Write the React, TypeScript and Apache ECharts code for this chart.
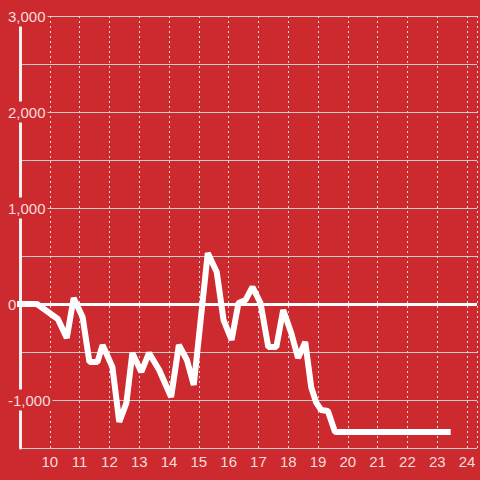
import React, { useEffect, useRef } from "react";
import * as echarts from "echarts";

const hours = [9.0, 9.57, 10.27, 10.57, 10.8, 11.1, 11.33, 11.6, 11.77, 12.1, 12.33, 12.57, 12.77, 13.07, 13.33, 13.67, 14.07, 14.33, 14.6, 14.83, 15.3, 15.6, 15.83, 16.1, 16.33, 16.57, 16.8, 17.07, 17.33, 17.6, 17.83, 18.1, 18.33, 18.57, 18.77, 18.93, 19.1, 19.33, 19.57, 23.35];
const values = [0, 0, -156, -354, 62, -135, -604, -604, -427, -656, -1229, -1031, -510, -708, -510, -688, -969, -427, -583, -844, 531, 333, -167, -375, 10, 42, 177, 10, -448, -448, -62, -302, -563, -396, -865, -1021, -1104, -1115, -1333, -1333];
const xTicks = [10, 11, 12, 13, 14, 15, 16, 17, 18, 19, 20, 21, 22, 23, 24];
const yLabels = [-1000, 0, 1000, 2000, 3000];

const BG = "#cc2a2e";

export default function App() {
  const ref = useRef<HTMLDivElement>(null);
  useEffect(() => {
    if (!ref.current) return;
    const chart = echarts.init(ref.current, undefined, { renderer: "svg" });
    chart.setOption({
      animation: false,
      backgroundColor: BG,
      grid: { left: 20, top: 16, right: 0, bottom: 32 },
      xAxis: {
        type: "value",
        min: 9,
        max: 24.333,
        interval: 1,
        axisLine: { show: false },
        axisTick: { show: false },
        axisLabel: {
          margin: 6,
          color: "#f6dcdc",
          fontSize: 15,
          fontFamily: "Liberation Sans",
          formatter: (v: number) => (xTicks.includes(v) ? String(v) : ""),
        },
        splitLine: {
          show: true,
          lineStyle: { color: "#dddddd", width: 1, type: [2, 3] },
        },
      },
      yAxis: {
        type: "value",
        min: -1500,
        max: 3000,
        interval: 500,
        axisLine: { show: true, lineStyle: { color: "#f0f0f0", width: 3 } },
        axisTick: { show: false },
        axisLabel: {
          align: "left",
          margin: 14,
          formatter: (v: number) =>
            yLabels.includes(v) ? "{b|" + v.toLocaleString("en-US") + "}" : "",
          rich: {
            b: {
              color: "#f6dcdc",
              fontSize: 15,
              fontFamily: "Liberation Sans",
              backgroundColor: BG,
              padding: [3, 2, 3, 2],
            },
          },
        },
        splitLine: { show: true, lineStyle: { color: "#cccccc", width: 1 } },
      },
      series: [
        {
          type: "line",
          data: hours.map((h, i) => [h, values[i]]),
          showSymbol: false,
          symbol: "none",
          lineStyle: { color: "#ffffff", width: 6, cap: "square" },
          markLine: {
            silent: true,
            symbol: "none",
            label: { show: false },
            lineStyle: { color: "#ffffff", width: 3, type: "solid" },
            data: [{ yAxis: 0 }],
          },
        },
      ],
    });
    return () => chart.dispose();
  }, []);
  return <div ref={ref} style={{ width: 480, height: 480, position: "fixed", left: 0, top: 0 }} />;
}
